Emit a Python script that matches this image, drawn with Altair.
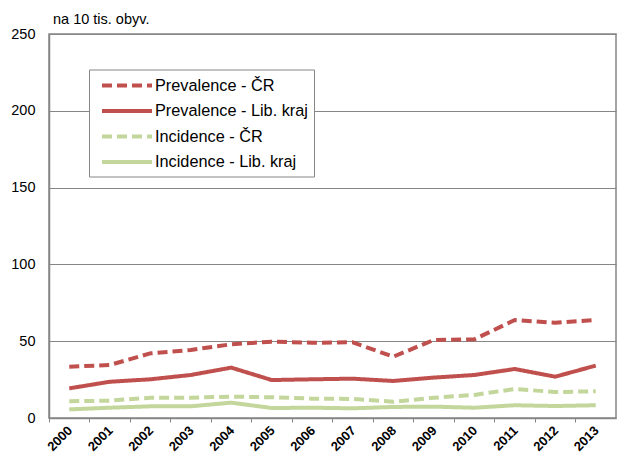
import altair as alt
import pandas as pd

years = [str(y) for y in range(2000, 2014)]
prev_cr = [33.4, 34.5, 42.1, 44.3, 48.0, 49.7, 49.0, 49.3, 39.9, 50.8, 51.2, 63.8, 62.0, 63.8]
prev_lk = [19.3, 23.6, 25.2, 28.0, 32.8, 24.7, 25.2, 25.6, 24.1, 26.3, 28.0, 31.9, 26.9, 34.1]
inc_cr = [10.9, 11.3, 13.2, 13.2, 13.9, 13.5, 12.6, 12.4, 10.6, 13.2, 15.0, 18.9, 16.9, 17.4]
inc_lk = [5.6, 6.7, 7.6, 7.6, 10.0, 6.5, 6.7, 6.3, 7.2, 7.4, 6.7, 8.3, 7.8, 8.3]

series_names = ["Prevalence - ČR", "Prevalence - Lib. kraj", "Incidence - ČR", "Incidence - Lib. kraj"]
series_values = [prev_cr, prev_lk, inc_cr, inc_lk]
colors = ["#C0504D", "#C0504D", "#C3D69B", "#C3D69B"]
dashes = [[10, 5], [1, 0], [10, 5], [1, 0]]
y_ticks = [0, 50, 100, 150, 200, 250]

rows = []
for name, vals in zip(series_names, series_values):
    for yr, v in zip(years, vals):
        rows.append({"year": yr, "value": v, "series": name})
df = pd.DataFrame(rows)

FONT = "Liberation Sans"
GRAY = "#868686"

legend = alt.Legend(
    title=None,
    orient="none",
    legendX=40,
    legendY=35.5,
    fillColor="white",
    strokeColor=GRAY,
    padding=6,
    cornerRadius=0,
    symbolType="M-0.375,0H5.875",
    symbolSize=256,
    symbolStrokeWidth=4,
    symbolFillColor="transparent",
    labelFontSize=16.3,
    labelFont=FONT,
    labelColor="black",
    labelOffset=40,
    labelLimit=400,
    rowPadding=6.5,
)

chart = alt.Chart(df).mark_line(strokeWidth=4, strokeJoin="round").encode(
    x=alt.X(
        "year:O",
        sort=years,
        scale=alt.Scale(type="band", paddingInner=0, paddingOuter=0),
        axis=alt.Axis(
            title=None,
            labelAngle=-45,
            labelAlign="right",
            labelBaseline="middle",
            labelFontWeight="bold",
            labelFontSize=13,
            labelFont=FONT,
            labelColor="black",
            bandPosition=0,
            labelOffset=1,
            labelPadding=6,
            tickSize=4,
            tickColor=GRAY,
            domainColor=GRAY,
            domainWidth=1.5,
            grid=False,
        ),
    ),
    y=alt.Y(
        "value:Q",
        scale=alt.Scale(domain=[0, 250]),
        axis=alt.Axis(
            title=None,
            values=y_ticks,
            ticks=False,
            labelPadding=14,
            labelFontSize=14.5,
            labelFont=FONT,
            labelColor="black",
            gridColor=GRAY,
            gridWidth=1,
            domainColor=GRAY,
            domainWidth=1.5,
        ),
    ),
    color=alt.Color("series:N", scale=alt.Scale(domain=series_names, range=colors), legend=legend),
    strokeDash=alt.StrokeDash("series:N", scale=alt.Scale(domain=series_names, range=dashes), legend=legend),
).properties(
    width=567,
    height=384,
    title=alt.TitleParams(
        "na 10 tis. obyv.",
        anchor="start",
        frame="group",
        fontSize=14.5,
        fontWeight="normal",
        font=FONT,
        color="black",
        dx=4,
        dy=10,
        offset=9,
    ),
    autosize=alt.AutoSizeParams(type="none"),
    padding={"left": 41, "top": 26, "right": 1, "bottom": 35},
).configure_view(stroke=GRAY, strokeWidth=1.5)

chart.save("out.html", embed_options={"renderer": "svg", "actions": False})
